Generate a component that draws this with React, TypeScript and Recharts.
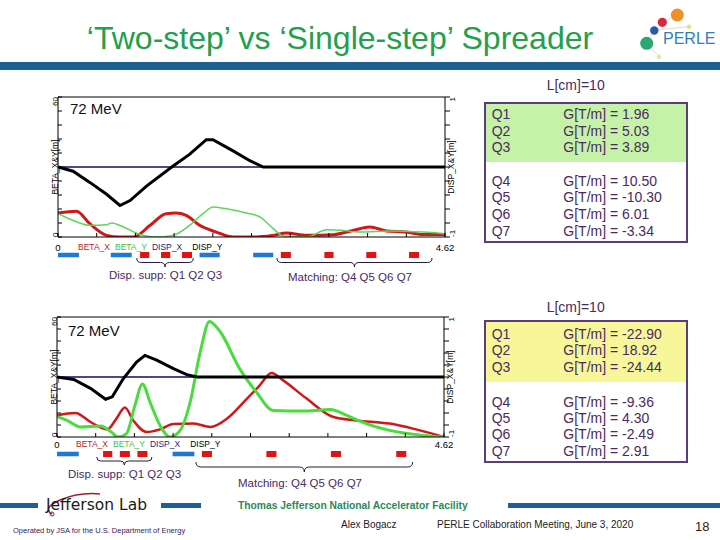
import React from 'react';
import { ComposedChart, Line, XAxis, YAxis, ReferenceArea, Label } from 'recharts';

const S_MAX = 4.62;
const sTicks = [0, 0.462, 0.924, 1.386, 1.848, 2.31, 2.772, 3.234, 3.696, 4.158, 4.62];
const betaTicks = [0, 6, 12, 18, 24, 30, 36, 42, 48, 54, 60];
const dispTicks = [-1, -0.8, -0.6, -0.4, -0.2, 0, 0.2, 0.4, 0.6, 0.8, 1];

// two-step spreader (top panel)
const twoBetaXS = [0, 0.22, 0.38, 0.58, 0.74, 0.9, 1.1, 1.29, 1.41, 1.53, 1.69, 1.89, 2.09, 2.37, 2.57, 2.73, 2.97, 3.29, 3.53, 3.72, 3.92, 4.16, 4.36, 4.62];
const twoBetaX = [10.3, 11, 5.7, 0.7, 0, 0, 5, 10, 10.3, 9.3, 5, 2.1, 0, 0, 0.7, 1.7, 0.7, 1, 2.9, 4.3, 2.6, 2.1, 1.1, 1.1];
const twoBetaYS = [0, 0.18, 0.38, 0.58, 0.64, 0.78, 0.98, 1.17, 1.37, 1.57, 1.73, 1.85, 2.01, 2.25, 2.41, 2.57, 2.69, 2.97, 3.21, 3.37, 3.61, 3.97, 4.36, 4.62];
const twoBetaY = [10, 7.1, 5, 5.3, 6, 4.3, 1.1, 0, 0.7, 5, 10, 12.9, 12.1, 10.3, 8.6, 3.6, 0.4, 0, 3.1, 2.9, 2.1, 2.6, 2.1, 1.4];
const twoDispYS = [0, 0.18, 0.38, 0.58, 0.74, 0.86, 1.06, 1.37, 1.57, 1.77, 1.85, 2.09, 2.29, 2.45, 4.62];
const twoDispY = [0, -0.06, -0.22, -0.39, -0.55, -0.48, -0.27, 0.01, 0.18, 0.39, 0.39, 0.23, 0.09, 0, 0];
const twoDispXS = [0, 4.62];
const twoDispX = [0, 0];
const twoDipoles = [[0, 0.25], [0.63, 0.88], [1.69, 1.93], [2.33, 2.57]];
const twoQuads = [[0.98, 1.09], [1.23, 1.34], [1.48, 1.6], [2.66, 2.78], [3.18, 3.29], [3.68, 3.8], [4.19, 4.31]];
const twoBraces = [[0.94, 1.615], [2.614, 4.465]];

// single-step spreader (bottom panel)
const oneBetaXS = [0, 0.22, 0.4, 0.6, 0.71, 0.81, 0.91, 1.07, 1.23, 1.39, 1.63, 1.83, 2.03, 2.26, 2.42, 2.56, 2.7, 2.98, 3.3, 3.57, 3.97, 4.25, 4.62];
const oneBetaX = [10.8, 12, 7.5, 3.8, 9.2, 14.7, 8.3, 2.5, 3.8, 6.5, 6.7, 5, 9.2, 18.8, 25.8, 32, 28.3, 19.2, 10, 8.3, 6.7, 4.2, 0];
const oneBetaYS = [0, 0.12, 0.28, 0.52, 0.64, 0.73, 0.83, 0.93, 1.02, 1.11, 1.23, 1.35, 1.47, 1.59, 1.71, 1.82, 1.95, 2.18, 2.38, 2.58, 2.98, 3.26, 3.46, 3.62, 3.97, 4.37, 4.62];
const oneBetaY = [10.3, 8.3, 5, 5.5, 2.8, 0, 1.7, 15.8, 26.5, 17.5, 5.8, 0, 3.3, 17.5, 42.5, 57.8, 52.5, 34.2, 22.5, 13.3, 13, 13.7, 10.8, 7.8, 3.3, 0.8, 0];
const oneDispYS = [0, 0.2, 0.4, 0.58, 0.66, 0.79, 0.95, 1.05, 1.19, 1.39, 1.55, 1.67, 4.62];
const oneDispY = [0, -0.04, -0.19, -0.37, -0.33, -0.03, 0.25, 0.36, 0.28, 0.14, 0.04, 0, 0];
const oneDispXS = [0, 4.62];
const oneDispX = [0, 0];
const oneDipoles = [[0, 0.26], [1.38, 1.64]];
const oneQuads = [[0.55, 0.66], [0.75, 0.87], [0.96, 1.08], [1.73, 1.85], [2.5, 2.62], [3.27, 3.39], [4.05, 4.17]];
const oneBraces = [[0.474, 1.134], [1.659, 4.246]];

const quadNames = ['Q1', 'Q2', 'Q3', 'Q4', 'Q5', 'Q6', 'Q7'];
const twoGrad = [1.96, 5.03, 3.89, 10.5, -10.3, 6.01, -3.34];
const oneGrad = [-22.9, 18.92, -24.44, -9.36, 4.3, -2.49, 2.91];

const seriesNames = ['BETA_X', 'BETA_Y', 'DISP_X', 'DISP_Y'];
const seriesColors = ['#b81c1c', '#3fc43f', '#1c1c80', '#000000'];

const ARIAL = '"Liberation Sans", Arial, sans-serif';
const RED = '#d11818';
const PURPLE = '#4a2a62';

const toPts = (s: number[], v: number[]) => s.map((x, i) => ({ s: x, v: v[i] }));
const edgeLabel = (v: number) => (v === 0 || v === S_MAX ? String(v) : '');

const LeftTick = (props: any) => {
  const { x, y, payload } = props;
  if (payload.value !== 0 && payload.value !== 60) return <g />;
  return (
    <text x={x} y={y} transform={`rotate(-90 ${x} ${y})`} textAnchor={payload.value === 60 ? 'end' : 'start'}
      dy="0.35em" fontSize={8} fontFamily={ARIAL} fill="#000">{payload.value}</text>
  );
};

const RightTick = (props: any) => {
  const { x, y, payload } = props;
  if (payload.value !== 1 && payload.value !== -1) return <g />;
  return (
    <text x={x} y={y} transform={`rotate(-90 ${x} ${y})`} textAnchor={payload.value === 1 ? 'end' : 'start'}
      dy="0.35em" fontSize={8} fontFamily={ARIAL} fill="#000">{payload.value}</text>
  );
};

const axisTitle = (text: string, side: 'left' | 'right') => (lp: any) => {
  const vb = lp.viewBox || {};
  const x = side === 'left' ? vb.x + vb.width - 3 : vb.x + 6;
  const y = vb.y + vb.height / 2;
  return (
    <text x={x} y={y} transform={`rotate(-90 ${x} ${y})`} textAnchor="middle" dy="0.35em"
      fontSize={8.5} fontFamily={ARIAL} fill="#000">{text}</text>
  );
};

function OpticsChart(p: any) {
  const H = 17 + p.plotH + 18;
  return (
    <div style={{ position: 'absolute', left: 0, top: p.top }}>
      <ComposedChart width={480} height={H} margin={{ top: 16, right: 0, bottom: 0, left: 0 }}>
        <XAxis xAxisId="b" type="number" dataKey="s" domain={[0, S_MAX]} ticks={sTicks} interval={0} height={18}
          tickSize={-4} tickMargin={p.labelGap} tickFormatter={edgeLabel} stroke="#000" allowDataOverflow
          tick={{ fontSize: 9.5, fill: '#000', fontFamily: ARIAL }} />
        <XAxis xAxisId="t" orientation="top" type="number" dataKey="s" domain={[0, S_MAX]} ticks={sTicks} interval={0}
          height={1} tickSize={-4} tick={false} stroke="#000" allowDataOverflow />
        <YAxis yAxisId="beta" type="number" domain={[0, 60]} ticks={betaTicks} interval={0} width={p.leftW}
          tickSize={-4} tickMargin={7} tick={LeftTick} stroke="#000" allowDataOverflow>
          <Label content={axisTitle('BETA_X&Y[m]', 'left')} />
        </YAxis>
        <YAxis yAxisId="disp" orientation="right" type="number" domain={[-1, 1]} ticks={dispTicks} interval={0}
          width={480 - p.rightEdge} tickSize={5} tickMargin={2} tick={RightTick} stroke="#000" allowDataOverflow>
          <Label content={axisTitle('DISP_X&Y[m]', 'right')} />
        </YAxis>
        <Line xAxisId="b" yAxisId="disp" data={p.dispX} dataKey="v" type="linear" stroke="#0c0c66"
          strokeWidth={1.4} dot={false} isAnimationActive={false} />
        <Line xAxisId="b" yAxisId="beta" data={p.betaX} dataKey="v" type="monotone" stroke={RED}
          strokeWidth={p.betaXW} dot={false} isAnimationActive={false} />
        <Line xAxisId="b" yAxisId="beta" data={p.betaY} dataKey="v" type="monotone" stroke={p.betaYColor}
          strokeWidth={p.betaYW} dot={false} isAnimationActive={false} />
        <Line xAxisId="b" yAxisId="disp" data={p.dispY} dataKey="v" type="linear" stroke="#000"
          strokeWidth={3} dot={false} isAnimationActive={false} />
      </ComposedChart>
    </div>
  );
}

function MagnetStrip(p: any) {
  // invisible series only gives the hidden axes their extent
  const stripData = [{ s: 0, v: 0 }, { s: S_MAX, v: 1 }];
  return (
    <div style={{ position: 'absolute', left: 0, top: p.top }}>
      <ComposedChart width={480} height={6} data={stripData}
        margin={{ top: 0, right: 480 - p.rightEdge, bottom: 0, left: p.leftW }}>
        <XAxis type="number" dataKey="s" domain={[0, S_MAX]} hide allowDataOverflow />
        <YAxis type="number" domain={[0, 1]} hide allowDataOverflow />
        <Line dataKey="v" stroke="none" dot={false} isAnimationActive={false} />
        {p.dipoles.map((d: number[], i: number) => (
          <ReferenceArea key={'d' + i} x1={d[0]} x2={d[1]} y1={0.12} y2={0.88} fill="#1f78d6" fillOpacity={1} stroke="none" ifOverflow="visible" />
        ))}
        {p.quads.map((q: number[], i: number) => (
          <ReferenceArea key={'q' + i} x1={q[0]} x2={q[1]} y1={0} y2={1} fill="#e01414" fillOpacity={1} stroke="none" ifOverflow="visible" />
        ))}
      </ComposedChart>
    </div>
  );
}

function Braces(p: any) {
  const sx = (s: number) => p.leftW + (s / S_MAX) * (p.rightEdge - p.leftW);
  return (
    <svg style={{ position: 'absolute', left: 0, top: 0 }} width={480} height={540}>
      {p.braces.map((b: number[], i: number) => {
        const x1 = sx(b[0]);
        const x2 = sx(b[1]);
        const xm = (x1 + x2) / 2;
        const y0 = p.ys[i];
        const h = p.hs[i];
        const r = h / 2;
        const d = `M ${x1} ${y0} Q ${x1} ${y0 + r} ${x1 + r} ${y0 + r} L ${xm - r} ${y0 + r} Q ${xm} ${y0 + r} ${xm} ${y0 + h} ` +
          `Q ${xm} ${y0 + r} ${xm + r} ${y0 + r} L ${x2 - r} ${y0 + r} Q ${x2} ${y0 + r} ${x2} ${y0}`;
        return <path key={i} d={d} fill="none" stroke="#2a1a3a" strokeWidth={1} />;
      })}
    </svg>
  );
}

const abs = (left: number, top: number, extra: any = {}) => ({ position: 'absolute' as const, left, top, whiteSpace: 'nowrap' as const, ...extra });

function LegendRow({ left, cy }: { left: number; cy: number }) {
  return (
    <div style={abs(left, cy - 5, { fontSize: 8.5, lineHeight: '10px', fontFamily: ARIAL })}>
      {seriesNames.map((n, i) => (
        <span key={n} style={{ color: seriesColors[i], marginRight: i === 2 ? 10 : 5 }}>{n}</span>
      ))}
    </div>
  );
}

function QuadTable(p: any) {
  const rows = quadNames.map((q, i) => {
    const cy = i < 3 ? p.rowA + i * p.step : p.rowB + (i - 3) * p.step;
    return (
      <React.Fragment key={q}>
        <div style={abs(491.7, cy - 8, { lineHeight: '16px', fontSize: 14, color: PURPLE })}>{q}</div>
        <div style={abs(563.3, cy - 8, { lineHeight: '16px', fontSize: 14, color: PURPLE })}>{`G[T/m] = ${p.grad[i].toFixed(2)}`}</div>
      </React.Fragment>
    );
  });
  return (
    <>
      <div style={abs(546.7, p.titleY - 8, { lineHeight: '16px', fontSize: 14, color: PURPLE })}>L[cm]=10</div>
      <div style={abs(484, p.boxTop, { width: 204, height: p.boxH, border: '2px solid #5c3d7c', boxSizing: 'border-box' })}>
        <div style={{ height: p.fillH, background: p.fill }} />
      </div>
      {rows}
    </>
  );
}

export default function App() {
  return (
    <div style={{ position: 'absolute', left: 0, top: 0, width: 720, height: 540, overflow: 'hidden', background: '#fff', fontFamily: ARIAL }}>
      {/* header */}
      <div style={abs(0, 19, { width: 680, textAlign: 'center', fontSize: 32, lineHeight: '38px', color: '#22a04b' })}>
        ‘Two-step’ vs ‘Single-step’ Spreader
      </div>
      <div style={abs(0, 62, { width: 720, height: 8, background: '#1b6196' })} />
      <svg style={{ position: 'absolute', left: 630, top: 0 }} width={90} height={62}>
        <g stroke="#d8c8b0" strokeWidth={0.7}>
          <line x1={16.7} y1={43.3} x2={29} y2={56.7} />
          <line x1={24.3} y1={30} x2={59} y2={26.7} />
          <line x1={32.3} y1={22.3} x2={47.3} y2={15} />
          <line x1={16.7} y1={43.3} x2={24.3} y2={30} />
        </g>
        <circle cx={47.3} cy={15} r={6.5} fill="#f0902a" />
        <circle cx={32.3} cy={22.3} r={4.6} fill="#d8283c" />
        <circle cx={24.3} cy={30.5} r={4.2} fill="#2a5aa8" />
        <circle cx={16.7} cy={43.3} r={6.5} fill="#2aa870" />
        <circle cx={59} cy={26.7} r={2.2} fill="#e8e070" />
        <circle cx={29} cy={56.7} r={2.2} fill="#f0d8b0" />
        <text x={33} y={44} fontSize={16} fontFamily={ARIAL} fill="#2f7fc1">PERLE</text>
      </svg>

      {/* top panel: two-step */}
      <OpticsChart top={80} plotH={140} leftW={58} rightEdge={445} labelGap={11.5}
        betaX={toPts(twoBetaXS, twoBetaX)} betaY={toPts(twoBetaYS, twoBetaY)}
        dispX={toPts(twoDispXS, twoDispX)} dispY={toPts(twoDispYS, twoDispY)}
        betaXW={3} betaYW={1.5} betaYColor="#5ed65a" />
      <div style={abs(70, 100, { fontSize: 15, lineHeight: '18px', color: '#111' })}>72 MeV</div>
      <LegendRow left={78} cy={247} />
      <MagnetStrip top={251.5} leftW={58} rightEdge={445} dipoles={twoDipoles} quads={twoQuads} />
      <Braces leftW={58} rightEdge={445} braces={twoBraces} ys={[258, 258]} hs={[9, 9]} />
      <div style={abs(109, 268, { fontSize: 11.5, lineHeight: '14px', color: PURPLE })}>Disp. supp: Q1 Q2 Q3</div>
      <div style={abs(288, 270, { fontSize: 11.5, lineHeight: '14px', color: PURPLE })}>Matching: Q4 Q5 Q6 Q7</div>
      <QuadTable titleY={85} boxTop={101.7} boxH={141.6} fillH={58} fill="#c4f2a6" rowA={114} rowB={180.5} step={16.7} grad={twoGrad} />

      {/* bottom panel: single-step */}
      <OpticsChart top={300} plotH={120} leftW={57} rightEdge={444} labelGap={8.5}
        betaX={toPts(oneBetaXS, oneBetaX)} betaY={toPts(oneBetaYS, oneBetaY)}
        dispX={toPts(oneDispXS, oneDispX)} dispY={toPts(oneDispYS, oneDispY)}
        betaXW={2.5} betaYW={3} betaYColor="#48dc3c" />
      <div style={abs(68, 322, { fontSize: 15, lineHeight: '18px', color: '#111' })}>72 MeV</div>
      <LegendRow left={76} cy={444} />
      <MagnetStrip top={450.5} leftW={57} rightEdge={444} dipoles={oneDipoles} quads={oneQuads} />
      <Braces leftW={57} rightEdge={444} braces={oneBraces} ys={[457, 462]} hs={[8, 10]} />
      <div style={abs(68, 467, { fontSize: 11.5, lineHeight: '14px', color: PURPLE })}>Disp. supp: Q1 Q2 Q3</div>
      <div style={abs(238, 476, { fontSize: 11.5, lineHeight: '14px', color: PURPLE })}>Matching: Q4 Q5 Q6 Q7</div>
      <QuadTable titleY={306.7} boxTop={320} boxH={143.3} fillH={59.7} fill="#f7f79a" rowA={334} rowB={401.5} step={16.4} grad={oneGrad} />

      {/* footer */}
      <div style={abs(0, 503, { width: 38, height: 5, background: '#1b6196' })} />
      <div style={abs(161, 503, { width: 40, height: 5, background: '#1b6196' })} />
      <svg style={{ position: 'absolute', left: 40, top: 486 }} width={70} height={34}>
        <path d="M 12 28 Q 2 22 20 14 Q 40 6 60 8" fill="none" stroke="#a02030" strokeWidth={1.5} />
        <circle cx={12} cy={28} r={2} fill="none" stroke="#a02030" strokeWidth={1} />
      </svg>
      <div style={abs(46, 495, { fontSize: 15.5, lineHeight: '20px', color: '#1a1a1a', fontFamily: '"DejaVu Sans", sans-serif' })}>Jefferson Lab</div>
      <div style={abs(13, 526, { fontSize: 7.5, lineHeight: '10px', color: '#3a1a5a' })}>Operated by JSA for the U.S. Department of Energy</div>
      <div style={abs(238, 500, { fontSize: 10.3, lineHeight: '12px', color: '#2a8a5a', fontWeight: 'bold' })}>Thomas Jefferson National Accelerator Facility</div>
      <div style={abs(508, 503, { width: 212, height: 5, background: '#1b6196' })} />
      <div style={abs(341, 519, { fontSize: 10, lineHeight: '12px', color: '#222' })}>Alex Bogacz</div>
      <div style={abs(437, 519, { fontSize: 10, lineHeight: '12px', color: '#222' })}>PERLE Collaboration Meeting, June 3, 2020</div>
      <div style={abs(695, 519, { fontSize: 13, lineHeight: '16px', color: '#222' })}>18</div>
    </div>
  );
}
